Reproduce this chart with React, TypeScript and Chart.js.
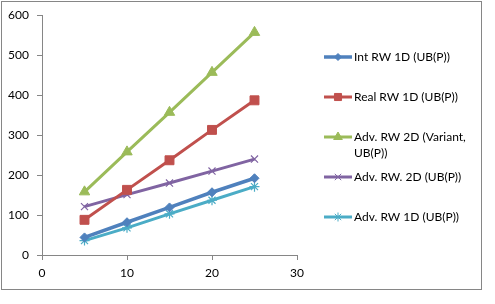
import React, { useEffect, useRef } from 'react';
import { Chart, registerables } from 'chart.js';
import { drawPoint } from 'chart.js/helpers';

Chart.register(...registerables);

const xValues = [5, 10, 15, 20, 25];
const seriesLabels = [
  'Int RW 1D (UB(P))',
  'Real RW 1D (UB(P))',
  'Adv. RW 2D (Variant, UB(P))',
  'Adv. RW. 2D (UB(P))',
  'Adv. RW 1D (UB(P))',
];
const intRW1D = [44, 82, 119, 157, 192];
const realRW1D = [88, 163, 237, 313, 387];
const advRW2DVariant = [158, 258, 357, 457, 557];
const advRW2D = [121, 151, 180, 210, 240];
const advRW1D = [36, 68, 103, 137, 171];
const xAxisRange = [0, 30, 10];
const yAxisRange = [0, 600, 100];

const colors = ['#4F81BD', '#C0504D', '#9BBB59', '#8064A2', '#4BACC6'];
const markers = ['rectRot', 'rect', 'triangle', 'crossRot', 'star'];
const markerRadius = [4.5, 6.3, 6, 5, 5];
const legendMarkerRadius = [3.5, 5, 5, 4.5, 4.5];

const FONT = 'Lato';
const AXIS_COLOR = '#868686';

const outerBorder = {
  id: 'outerBorder',
  beforeDraw(chart: any) {
    const ctx = chart.ctx;
    ctx.save();
    ctx.fillStyle = '#ffffff';
    ctx.fillRect(0, 0, chart.width, chart.height);
    ctx.strokeStyle = AXIS_COLOR;
    ctx.lineWidth = 1;
    ctx.strokeRect(1.5, 1.5, 480, 288);
    ctx.restore();
  },
};

const customLegend = {
  id: 'customLegend',
  afterDraw(chart: any) {
    const ctx = chart.ctx;
    ctx.save();
    ctx.font = `12px ${FONT}`;
    ctx.textBaseline = 'middle';
    ctx.textAlign = 'left';
    chart.data.datasets.forEach((ds: any, i: number) => {
      const y = 57 + i * 40;
      ctx.strokeStyle = ds.borderColor;
      ctx.lineWidth = ds.borderWidth;
      ctx.beginPath();
      ctx.moveTo(324, y);
      ctx.lineTo(352, y);
      ctx.stroke();
      ctx.fillStyle = ds.backgroundColor;
      ctx.strokeStyle = ds.borderColor;
      ctx.lineWidth = 1;
      drawPoint(ctx, { pointStyle: ds.pointStyle, radius: legendMarkerRadius[i], rotation: 0, borderWidth: 1 }, 338, y);
      const words = String(ds.label).split(' ');
      const lines: string[] = [];
      let cur = '';
      words.forEach((w) => {
        const t = cur ? cur + ' ' + w : w;
        if (ctx.measureText(t).width > 116 && cur) {
          lines.push(cur);
          cur = w;
        } else cur = t;
      });
      if (cur) lines.push(cur);
      ctx.fillStyle = '#000000';
      lines.forEach((l, k) => ctx.fillText(l, 354, y + k * 16));
    });
    ctx.restore();
  },
};

export default function App() {
  const ref = useRef<HTMLCanvasElement | null>(null);
  useEffect(() => {
    if (!ref.current) return;
    const series = [intRW1D, realRW1D, advRW2DVariant, advRW2D, advRW1D];
    const chart = new Chart(ref.current, {
      type: 'scatter',
      data: {
        datasets: series.map((vals, i) => ({
          label: seriesLabels[i],
          data: xValues.map((x, j) => ({ x, y: vals[j] })),
          showLine: true,
          borderColor: colors[i],
          backgroundColor: colors[i],
          borderWidth: i === 0 ? 3.5 : 3,
          pointStyle: markers[i],
          pointRadius: markerRadius[i],
          pointBorderWidth: i >= 3 ? 1.2 : 1,
          pointBorderColor: colors[i],
          pointBackgroundColor: colors[i],
        })),
      },
      options: {
        animation: false,
        responsive: false,
        events: [],
        layout: { padding: { top: 15, right: 198, left: 0, bottom: 0 } },
        plugins: { legend: { display: false }, tooltip: { enabled: false } },
        scales: {
          x: {
            type: 'linear',
            min: xAxisRange[0],
            max: xAxisRange[1],
            afterFit: (s: any) => { s.height = 49; },
            ticks: { stepSize: xAxisRange[2], padding: 6, color: '#000', font: { family: FONT, size: 12 } },
            grid: { drawOnChartArea: false, drawTicks: true, tickLength: 5, color: AXIS_COLOR },
            border: { display: true, color: AXIS_COLOR, width: 1 },
          },
          y: {
            type: 'linear',
            min: yAxisRange[0],
            max: yAxisRange[1],
            afterFit: (s: any) => { s.width = 42; },
            ticks: { stepSize: yAxisRange[2], padding: 8, color: '#000', font: { family: FONT, size: 12 } },
            grid: { drawOnChartArea: false, drawTicks: true, tickLength: 5, color: AXIS_COLOR },
            border: { display: true, color: AXIS_COLOR, width: 1 },
          },
        },
      },
      plugins: [outerBorder, customLegend],
    } as any);
    return () => chart.destroy();
  }, []);
  return (
    <div style={{ position: 'absolute', left: 0, top: 0, width: 495, height: 304 }}>
      <canvas ref={ref} width={495} height={304} />
    </div>
  );
}
